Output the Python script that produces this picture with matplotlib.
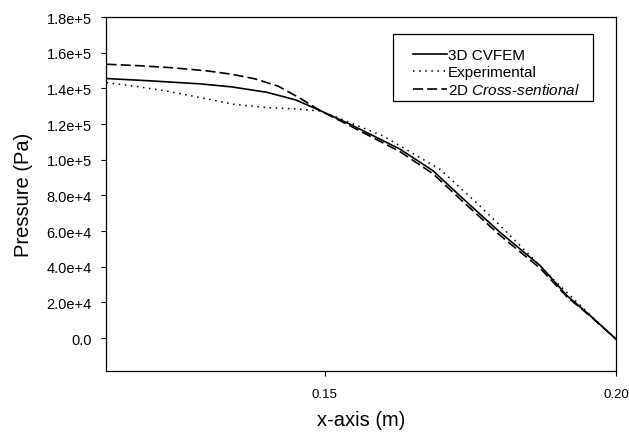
import matplotlib
matplotlib.use("Agg")
import matplotlib.pyplot as plt
from matplotlib.patches import Rectangle
from matplotlib.ticker import FixedLocator

plt.rcParams["font.family"] = ["Liberation Sans", "DejaVu Sans"]
plt.rcParams["mathtext.fontset"] = "custom"
plt.rcParams["mathtext.it"] = "Liberation Sans:italic"
plt.rcParams["mathtext.rm"] = "Liberation Sans"

# values
x_cvfem = [0.1125, 0.1200, 0.1286, 0.1340, 0.1400, 0.1450, 0.1492, 0.1543,
           0.1629, 0.1686, 0.1732, 0.1801, 0.1870, 0.1916, 0.1956, 0.2000]
p_cvfem = [1.455e5, 1.442e5, 1.425e5, 1.408e5, 1.378e5, 1.335e5, 1.275e5, 1.199e5,
           1.059e5, 9.37e4, 7.97e4, 5.92e4, 4.05e4, 2.37e4, 1.25e4, -0.6e3]

x_exp = [0.1125, 0.1171, 0.1228, 0.1286, 0.1343, 0.1400, 0.1457, 0.1492,
         0.1515, 0.1600, 0.1698, 0.1760, 0.1801, 0.1847, 0.1892, 0.1956, 0.2000]
p_exp = [1.432e5, 1.413e5, 1.385e5, 1.348e5, 1.311e5, 1.292e5, 1.283e5, 1.273e5,
         1.245e5, 1.133e5, 9.45e4, 7.60e4, 6.30e4, 4.80e4, 3.30e4, 1.28e4, -0.6e3]

x_2d = [0.1125, 0.1180, 0.1240, 0.1300, 0.1340, 0.1380, 0.1420, 0.1457, 0.1492,
        0.1543, 0.1629, 0.1686, 0.1732, 0.1801, 0.1870, 0.1916, 0.1956, 0.2000]
p_2d = [1.535e5, 1.527e5, 1.515e5, 1.497e5, 1.479e5, 1.453e5, 1.412e5, 1.345e5, 1.275e5,
        1.190e5, 1.045e5, 9.20e4, 7.80e4, 5.75e4, 3.90e4, 2.30e4, 1.22e4, -0.6e3]

y_ticks = [0, 2e4, 4e4, 6e4, 8e4, 1e5, 1.2e5, 1.4e5, 1.6e5, 1.8e5]
y_tick_labels = ["0.0", "2.0e+4", "4.0e+4", "6.0e+4", "8.0e+4", "1.0e+5",
                 "1.2e+5", "1.4e+5", "1.6e+5", "1.8e+5"]
x_ticks = [0.15, 0.20]
x_tick_labels = ["0.15", "0.20"]

fig = plt.figure(figsize=(6.29, 4.39), dpi=100)
ax = fig.add_axes([106 / 629, 1 - 372 / 439, 510 / 629, 354 / 439])

ax.plot(x_cvfem, p_cvfem, color="black", lw=1.2, label="3D CVFEM")
ax.plot(x_exp, p_exp, color="black", lw=1.1, linestyle=(0, (1, 3)), label="Experimental")
ax.plot(x_2d, p_2d, color="black", lw=1.2, linestyle=(0, (6, 2.5)),
        label=r"2D $\mathit{Cross}$-$\mathit{sentional}$")

ax.set_xlim(0.1124, 0.20)
ax.set_ylim(-1.85e4, 1.8e5)
ax.xaxis.set_major_locator(FixedLocator(x_ticks))
ax.set_xticklabels(x_tick_labels)
ax.yaxis.set_major_locator(FixedLocator(y_ticks))
ax.set_yticklabels(y_tick_labels)
ax.tick_params(axis="both", direction="out", length=3.6, width=0.8)
ax.tick_params(axis="y", labelsize=10.5, pad=6.5)
ax.tick_params(axis="x", labelsize=9.5, pad=9)

for s in ax.spines.values():
    s.set_linewidth(0.9)

ax.set_xlabel("x-axis (m)", fontsize=14.5, labelpad=7)
ax.set_ylabel("Pressure (Pa)", fontsize=14.5, labelpad=10)

leg = ax.legend(loc="upper left", bbox_to_anchor=(413 / 629, 1 - 49 / 439),
                bbox_transform=fig.transFigure, frameon=False, fontsize=11,
                handlelength=2.2, handletextpad=0.1, labelspacing=0.2,
                borderpad=0, borderaxespad=0)

# legend box, with the larger top margin of the original
fig.patches.append(Rectangle((393 / 629, 1 - 102 / 439), 200 / 629, 67 / 439,
                             transform=fig.transFigure, fill=False,
                             edgecolor="black", lw=0.9))

fig.savefig("out.png", dpi=100)
